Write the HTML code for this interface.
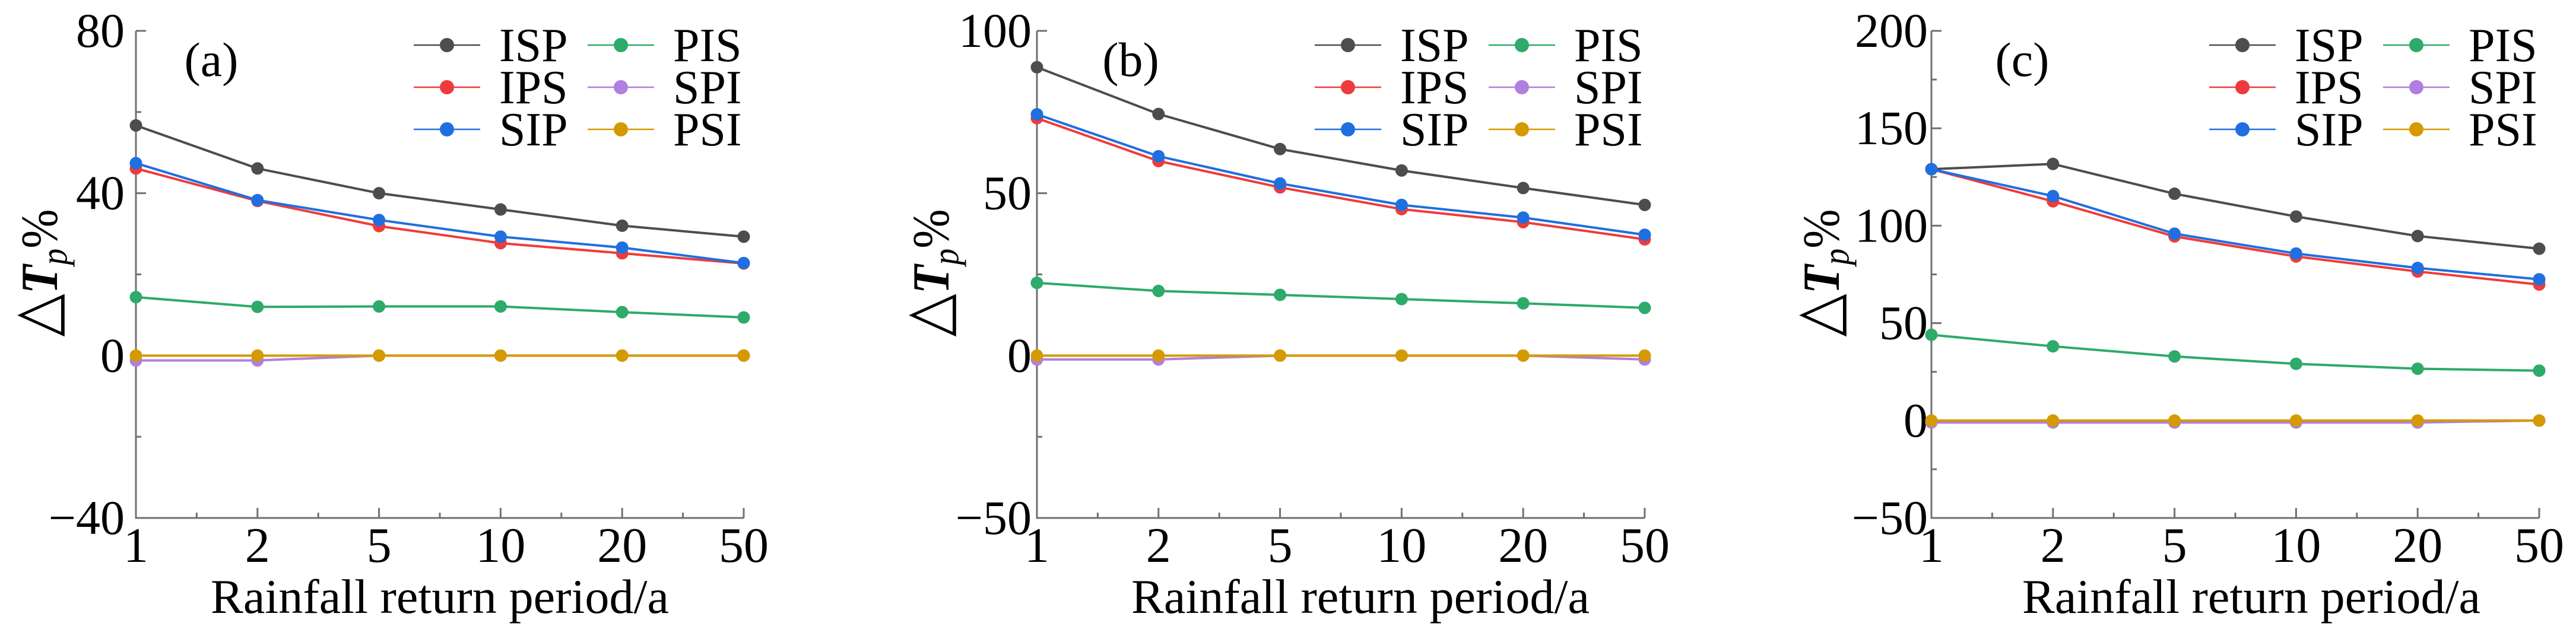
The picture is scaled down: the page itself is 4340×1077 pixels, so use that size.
<!DOCTYPE html>
<html><head><meta charset="utf-8"><style>
html,body{margin:0;padding:0;background:#fff;}
svg{display:block;}
text{font-family:"Liberation Serif",serif;fill:#000;}
</style></head><body>
<svg id="chart" width="4340" height="1077" viewBox="0 0 4340 1077" xmlns="http://www.w3.org/2000/svg"></svg>
<script>
const categories = ["1","2","5","10","20","50"];
const seriesNames = ["ISP","IPS","SIP","PIS","SPI","PSI"];
const seriesColors = ["#4d4d4d","#ef3b3b","#1f6fe0","#2eaa6a","#b07fe0","#d49a00"];
// panel (a)
const aISP = [56.7,46.1,40.0,36.0,32.0,29.3];
const aIPS = [46.1,38.1,31.9,27.7,25.2,22.7];
const aSIP = [47.4,38.3,33.4,29.3,26.6,22.8];
const aPIS = [14.4,12.0,12.1,12.1,10.7,9.4];
const aSPI = [-1.2,-1.2,0,0,0,0];
const aPSI = [0,0,0,0,0,0];
const aTicks = ["80","40","0","−40"];
// panel (b)
const bISP = [88.8,74.4,63.6,57.0,51.6,46.4];
const bIPS = [73.1,59.9,51.8,45.1,41.1,35.8];
const bSIP = [74.3,61.4,53.0,46.4,42.5,37.2];
const bPIS = [22.4,19.9,18.7,17.4,16.1,14.7];
const bSPI = [-1.2,-1.2,0,0,0,-1.2];
const bPSI = [0,0,0,0,0,0];
const bTicks = ["100","50","0","−50"];
// panel (c)
const cISP = [129.0,131.7,116.4,104.7,94.7,88.2];
const cIPS = [129.0,112.5,94.5,84.2,76.5,69.8];
const cSIP = [129.0,115.2,95.9,85.7,78.3,72.5];
const cPIS = [44.0,38.1,32.9,29.1,26.6,25.6];
const cSPI = [-1,-1,-1,-1,-1,0];
const cPSI = [0,0,0,0,0,0];
const cTicks = ["200","150","100","50","0","−50"];

const NS = "http://www.w3.org/2000/svg";
const svg = document.getElementById('chart');
function mk(tag, attrs, parent){
  const e = document.createElementNS(NS, tag);
  for (const k in attrs) e.setAttribute(k, attrs[k]);
  (parent||svg).appendChild(e);
  return e;
}
function txt(parent, x, y, s, size, anchor, name, len){
  const a = {x:x, y:y, 'font-size':size, 'text-anchor':anchor};
  if (len) { a.textLength = len; a.lengthAdjust = 'spacingAndGlyphs'; }
  const t = mk('text', a, parent);
  t.textContent = s;
  
  
  return t;
}

const panels = [
  {id:'a', left:229, ymin:-40, ymax:80, minor:20, major:40, ticks:aTicks, series:[aISP,aIPS,aSIP,aPIS,aSPI,aPSI], gap:19, label:'(a)', labelX:127, ylabX:-161, titleX:512},
  {id:'b', left:1747, ymin:-50, ymax:100, minor:25, major:50, ticks:bTicks, series:[bISP,bIPS,bSIP,bPIS,bSPI,bPSI], gap:9, label:'(b)', labelX:158, ylabX:-177, titleX:545},
  {id:'c', left:3254, ymin:-50, ymax:200, minor:25, major:50, ticks:cTicks, series:[cISP,cIPS,cSIP,cPIS,cSPI,cPSI], gap:6, label:'(c)', labelX:153, ylabX:-184, titleX:539}
];
const TOP = 52, BOT = 873, W = 1024;

panels.forEach(p => {
  const g = mk('g', {});
  
  
  const xs = i => p.left + i * W / (categories.length - 1);
  const ys = v => TOP + (p.ymax - v) / (p.ymax - p.ymin) * (BOT - TOP);
  const R = p.left + W;
  const ax = mk('path', {d:`M${p.left},${TOP} V${BOT} H${R}`, fill:'none', stroke:'#707070', 'stroke-width':3}, g);
  
  
  for (let v = p.ymin; v <= p.ymax + 1e-9; v += p.minor) {
    const isMajor = Math.abs(((v - p.ymin) % p.major)) < 1e-9;
    const tk = mk('line', {x1:p.left, x2:p.left + (isMajor ? 17 : 9), y1:ys(v), y2:ys(v), stroke:'#707070', 'stroke-width':3}, g);
    
    
  }
  p.ticks.forEach((s, i) => {
    const v = p.ymax - i * p.major;
    txt(g, p.left - p.gap, ys(v) + 27, s, 82, 'end', 'y-tick-label');
  });
  for (let i = 0; i < categories.length; i++) {
    const tk = mk('line', {x1:xs(i), x2:xs(i), y1:BOT, y2:BOT - 17, stroke:'#707070', 'stroke-width':3}, g);
    
    
    if (i < categories.length - 1) {
      const mt = mk('line', {x1:(xs(i)+xs(i+1))/2, x2:(xs(i)+xs(i+1))/2, y1:BOT, y2:BOT - 9, stroke:'#707070', 'stroke-width':3}, g);
      
      
    }
    txt(g, xs(i), 947, categories[i], 84, 'middle', 'x-tick-label');
  }
  txt(g, p.left + p.titleX, 1033, 'Rainfall return period/a', 82, 'middle', 'x-axis-title', 772);
  const yg = mk('g', {transform:`translate(${p.left + p.ylabX + 28},460) rotate(-90)`}, g);
  const yt = mk('text', {x:0, y:0, 'font-size':88, 'text-anchor':'middle', textLength:215, lengthAdjust:'spacingAndGlyphs'}, yg);
  
  
  const t1 = mk('tspan', {'font-size':104, 'font-weight':'normal'}, yt); t1.textContent = '△';
  const t2 = mk('tspan', {'font-style':'italic','font-weight':'bold'}, yt); t2.textContent = 'T';
  const t3 = mk('tspan', {'font-style':'italic','font-size':62, dy:16}, yt); t3.textContent = 'p';
  const t4 = mk('tspan', {dy:-16}, yt); t4.textContent = '%';
  txt(g, p.left + p.labelX, 128, p.label, 82, 'middle', 'panel-label');
  p.series.forEach((vals, si) => {
    const sg = mk('g', {}, g);
    
    
    const pts = vals.map((v, i) => `${xs(i)},${ys(v)}`).join(' ');
    const pl = mk('polyline', {points:pts, fill:'none', stroke:seriesColors[si], 'stroke-width':4, 'stroke-linejoin':'round'}, sg);
    
    
    vals.forEach((v, i) => {
      const c = mk('circle', {cx:xs(i), cy:ys(v), r:10.5, fill:seriesColors[si]}, sg);
      
      
    });
  });
  const lg = mk('g', {}, g);
  
  
  seriesNames.forEach((n, si) => {
    const col = Math.floor(si / 3), row = si % 3;
    const x0 = p.left + (col ? 761 : 468);
    const y0 = TOP + 24 + row * 71;
    const eg = mk('g', {}, lg);
    
    
    mk('line', {x1:x0, x2:x0 + 112, y1:y0, y2:y0, stroke:seriesColors[si], 'stroke-width':2.5}, eg);
    mk('ellipse', {cx:x0 + 56, cy:y0, rx:12, ry:12, fill:seriesColors[si]}, eg);
    txt(eg, x0 + 144, y0 + 27, n, 80, 'start', 'legend-label');
  });
});
</script>
</body></html>
